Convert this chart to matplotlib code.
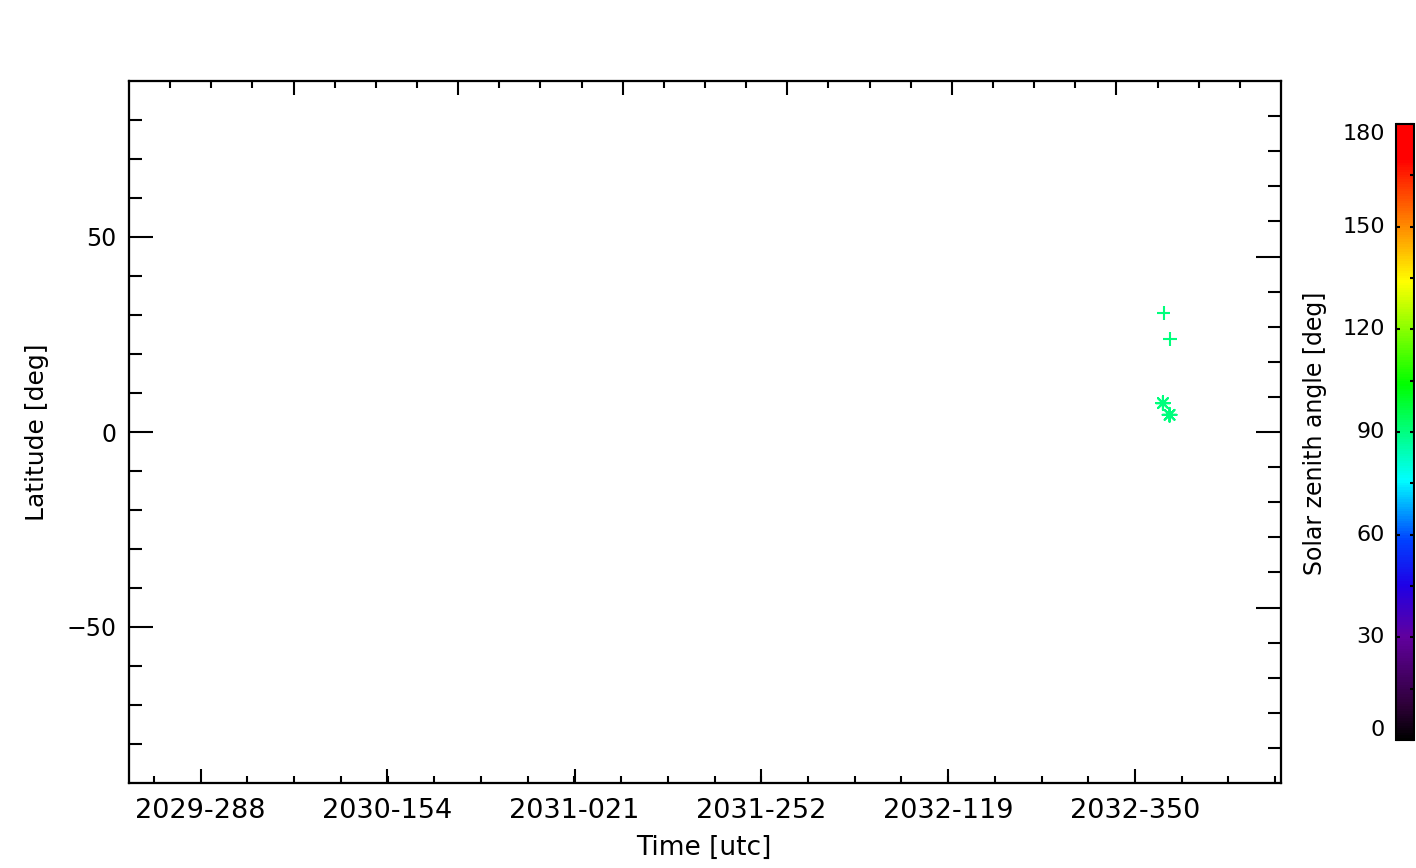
import numpy as np
import matplotlib
matplotlib.use("Agg")
from matplotlib import pyplot as plt
from matplotlib import transforms
from matplotlib.colors import LinearSegmentedColormap, Normalize
from matplotlib.cm import ScalarMappable

# time axis: days counted from 2029-001 (day 0)
tick_days = [287, 518, 750, 981, 1213, 1444]
tick_labels = ["2029-288", "2030-154", "2031-021", "2031-252", "2032-119", "2032-350"]
x_range = [198.2, 1624.9]

# observations: plus = one set, asterisk = other set
plus_days = [1479.4, 1486.9]
plus_lat = [30.6, 23.8]
plus_sza = [90, 90]
star_days = [1478.7, 1486.9]
star_lat = [7.4, 4.4]
star_sza = [90, 90]

sza_ticks = [0, 30, 60, 90, 120, 150, 180]

# IDL style rainbow (black -> purple -> blue -> cyan -> green -> yellow -> red)
anchors = [
    (0, (0.0, 0.0, 0.0)),
    (10, (0.18, 0.0, 0.22)),
    (30, (0.38, 0.0, 0.62)),
    (45, (0.12, 0.0, 0.9)),
    (58, (0.0, 0.25, 1.0)),
    (76, (0.0, 1.0, 1.0)),
    (104, (0.0, 1.0, 0.0)),
    (134, (1.0, 1.0, 0.0)),
    (150, (1.0, 0.55, 0.0)),
    (170, (1.0, 0.0, 0.0)),
    (180, (1.0, 0.0, 0.0)),
]
cmap = LinearSegmentedColormap.from_list("idl39", [(a / 180.0, c) for a, c in anchors])
norm = Normalize(0, 180)

plt.rcParams['font.family'] = ['DejaVu Sans']
W, H = 1416, 868
fig = plt.figure(figsize=(W / 100, H / 100), dpi=100)

ax = fig.add_axes([129 / W, 1 - 783 / H, (1281 - 129) / W, (783 - 81) / H])
ax.set_xlim(*x_range)
ax.set_ylim(-90, 90)
for s in ax.spines.values():
    s.set_linewidth(1.5)

ax.set_xticks(tick_days)
ax.set_xticklabels(tick_labels, fontsize=19.5)
step = (tick_days[-1] - tick_days[0]) / (len(tick_days) - 1) / 4
minor = np.arange(tick_days[0] - 4 * step, x_range[1], step)
ax.set_xticks([m for m in minor if x_range[0] < m < x_range[1]], minor=True)
ax.set_yticks([-50, 0, 50])
ax.set_yticks(np.arange(-80, 81, 10), minor=True)
ax.tick_params(axis='x', which='major', direction='in', length=10, width=1.5,
               pad=11, top=False)
ax.tick_params(axis='x', which='minor', direction='in', length=5, width=1.5, top=False)
ax.tick_params(axis='y', which='major', direction='in', length=17, width=1.5,
               pad=9, labelsize=17, right=False)
ax.tick_params(axis='y', which='minor', direction='in', length=9.5, width=1.5, right=False)

# top axis (unlabelled, own scale)
axt = ax.twiny()
axt.set_xlim(0, 7)
axt.set_xticks(np.arange(1, 7))
axt.set_xticks(np.arange(0.25, 7, 0.25), minor=True)
axt.tick_params(axis='x', which='major', direction='in', length=10, width=1.5, labeltop=False)
axt.tick_params(axis='x', which='minor', direction='in', length=5, width=1.5)

# right axis (unlabelled, own scale)
axr = ax.twinx()
axr.set_ylim(-100, 100)
axr.set_yticks([-50, 0, 50])
axr.set_yticks(np.arange(-90, 91, 10), minor=True)
axr.tick_params(axis='y', which='major', direction='in', length=18, width=1.5, labelright=False)
axr.tick_params(axis='y', which='minor', direction='in', length=9.5, width=1.5)
for a in (axt, axr):
    for s in a.spines.values():
        s.set_linewidth(1.5)

ax.scatter(plus_days, plus_lat, c=plus_sza, cmap=cmap, norm=norm, marker='+',
           s=100, linewidths=1.5, zorder=5)
ax.scatter(star_days, star_lat, c=star_sza, cmap=cmap, norm=norm, marker=(8, 2, 0),
           s=100, linewidths=1.5, zorder=5)

fig.text(704 / W, 1 - 848 / H, "Time [utc]", fontsize=19, ha='center', va='center')
fig.text(37 / W, 1 - 432 / H, "Latitude [deg]", fontsize=18, ha='center', va='center',
         rotation=90)

# colour bar
cax = fig.add_axes([1396 / W, 1 - 740 / H, 18 / W, 616 / H])
cb = fig.colorbar(ScalarMappable(norm=norm, cmap=cmap), cax=cax)
cb.outline.set_linewidth(1.5)
cb.set_ticks(sza_ticks)
cax.set_yticks(np.arange(15, 180, 30), minor=True)
cax.tick_params(axis='y', which='major', direction='in', length=3, width=1.5,
                left=True, right=True, labelleft=False, labelright=False)
cax.tick_params(axis='y', which='minor', direction='in', length=3, width=1.5,
                left=False, right=True)
# labels drawn by hand so the end labels can stay inside the bar
trans = transforms.blended_transform_factory(cax.transAxes, cax.transData)
for v in sza_ticks:
    va = 'bottom' if v == sza_ticks[0] else ('top' if v == sza_ticks[-1] else 'center')
    cax.text(-0.62, v, str(v), transform=trans, ha='right', va=va, fontsize=16)
fig.text(1315 / W, 1 - 433 / H, "Solar zenith angle [deg]", fontsize=17,
         ha='center', va='center', rotation=90)

fig.savefig("out.png", dpi=100)
